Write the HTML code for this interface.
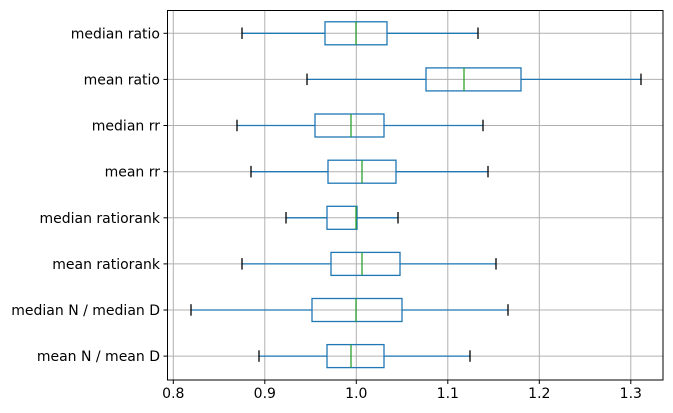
<!DOCTYPE html><html><head><style>body{margin:0;background:#fff}svg{display:block}</style></head><body>
<svg width="673" height="413" xmlns="http://www.w3.org/2000/svg" font-family="DejaVu Sans, sans-serif" font-size="14">
<rect x="0" y="0" width="673" height="413" fill="#fff"/>
<g stroke="#b0b0b0" stroke-width="1">
<line x1="173.3" y1="10.5" x2="173.3" y2="380"/><line x1="264.8" y1="10.5" x2="264.8" y2="380"/><line x1="356.3" y1="10.5" x2="356.3" y2="380"/><line x1="447.8" y1="10.5" x2="447.8" y2="380"/><line x1="539.3" y1="10.5" x2="539.3" y2="380"/><line x1="630.8" y1="10.5" x2="630.8" y2="380"/>
<line x1="167.5" y1="33.3" x2="663" y2="33.3"/><line x1="167.5" y1="79.4" x2="663" y2="79.4"/><line x1="167.5" y1="125.5" x2="663" y2="125.5"/><line x1="167.5" y1="171.7" x2="663" y2="171.7"/><line x1="167.5" y1="217.8" x2="663" y2="217.8"/><line x1="167.5" y1="263.9" x2="663" y2="263.9"/><line x1="167.5" y1="310" x2="663" y2="310"/><line x1="167.5" y1="356.1" x2="663" y2="356.1"/>
</g>
<g stroke-width="1.3" fill="none">
<g stroke="#1f77b4">
<line x1="242" y1="33.3" x2="325" y2="33.3"/><line x1="387" y1="33.3" x2="478" y2="33.3"/><rect x="325" y="21.8" width="62" height="23"/>
<line x1="307" y1="79.4" x2="426" y2="79.4"/><line x1="521" y1="79.4" x2="641" y2="79.4"/><rect x="426" y="67.9" width="95" height="23"/>
<line x1="237" y1="125.5" x2="315" y2="125.5"/><line x1="384" y1="125.5" x2="483" y2="125.5"/><rect x="315" y="114" width="69" height="23"/>
<line x1="251" y1="171.7" x2="328" y2="171.7"/><line x1="396" y1="171.7" x2="488" y2="171.7"/><rect x="328" y="160.2" width="68" height="23"/>
<line x1="286" y1="217.8" x2="327" y2="217.8"/><line x1="357" y1="217.8" x2="398" y2="217.8"/><rect x="327" y="206.3" width="30" height="23"/>
<line x1="242" y1="263.9" x2="331" y2="263.9"/><line x1="400" y1="263.9" x2="496" y2="263.9"/><rect x="331" y="252.4" width="69" height="23"/>
<line x1="191" y1="310" x2="312" y2="310"/><line x1="402" y1="310" x2="508" y2="310"/><rect x="312" y="298.5" width="90" height="23"/>
<line x1="259" y1="356.1" x2="327" y2="356.1"/><line x1="384" y1="356.1" x2="470" y2="356.1"/><rect x="327" y="344.6" width="57" height="23"/>
</g>
<g stroke="#2ca02c">
<line x1="356" y1="21.8" x2="356" y2="44.8"/><line x1="464" y1="67.9" x2="464" y2="90.9"/><line x1="351" y1="114" x2="351" y2="137"/><line x1="362" y1="160.2" x2="362" y2="183.2"/><line x1="356" y1="206.3" x2="356" y2="229.3"/><line x1="362" y1="252.4" x2="362" y2="275.4"/><line x1="356" y1="298.5" x2="356" y2="321.5"/><line x1="351" y1="344.6" x2="351" y2="367.6"/>
</g>
<g stroke="#000">
<line x1="242" y1="27.5" x2="242" y2="39"/><line x1="478" y1="27.5" x2="478" y2="39"/>
<line x1="307" y1="73.6" x2="307" y2="85.1"/><line x1="641" y1="73.6" x2="641" y2="85.1"/>
<line x1="237" y1="119.7" x2="237" y2="131.2"/><line x1="483" y1="119.7" x2="483" y2="131.2"/>
<line x1="251" y1="165.9" x2="251" y2="177.4"/><line x1="488" y1="165.9" x2="488" y2="177.4"/>
<line x1="286" y1="212" x2="286" y2="223.5"/><line x1="398" y1="212" x2="398" y2="223.5"/>
<line x1="242" y1="258.1" x2="242" y2="269.6"/><line x1="496" y1="258.1" x2="496" y2="269.6"/>
<line x1="191" y1="304.2" x2="191" y2="315.7"/><line x1="508" y1="304.2" x2="508" y2="315.7"/>
<line x1="259" y1="350.3" x2="259" y2="361.8"/><line x1="470" y1="350.3" x2="470" y2="361.8"/>
</g>
</g>
<rect x="167.5" y="10.5" width="495.5" height="369.5" fill="none" stroke="#000" stroke-width="1"/>
<g stroke="#000"><line x1="173.3" y1="380" x2="173.3" y2="384"/><line x1="264.8" y1="380" x2="264.8" y2="384"/><line x1="356.3" y1="380" x2="356.3" y2="384"/><line x1="447.8" y1="380" x2="447.8" y2="384"/><line x1="539.3" y1="380" x2="539.3" y2="384"/><line x1="630.8" y1="380" x2="630.8" y2="384"/>
<line x1="163.5" y1="33.3" x2="167.5" y2="33.3"/><line x1="163.5" y1="79.4" x2="167.5" y2="79.4"/><line x1="163.5" y1="125.5" x2="167.5" y2="125.5"/><line x1="163.5" y1="171.7" x2="167.5" y2="171.7"/><line x1="163.5" y1="217.8" x2="167.5" y2="217.8"/><line x1="163.5" y1="263.9" x2="167.5" y2="263.9"/><line x1="163.5" y1="310" x2="167.5" y2="310"/><line x1="163.5" y1="356.1" x2="167.5" y2="356.1"/></g>
<g text-anchor="middle"><text x="173.3" y="398">0.8</text><text x="264.8" y="398">0.9</text><text x="356.3" y="398">1.0</text><text x="447.8" y="398">1.1</text><text x="539.3" y="398">1.2</text><text x="630.8" y="398">1.3</text></g>
<g text-anchor="end"><text x="160" y="38.3">median ratio</text><text x="160" y="84.4">mean ratio</text><text x="160" y="130.5">median rr</text><text x="160" y="176.7">mean rr</text><text x="160" y="222.8">median ratiorank</text><text x="160" y="268.9">mean ratiorank</text><text x="160" y="315">median N / median D</text><text x="160" y="361.1">mean N / mean D</text></g>
</svg></body></html>
